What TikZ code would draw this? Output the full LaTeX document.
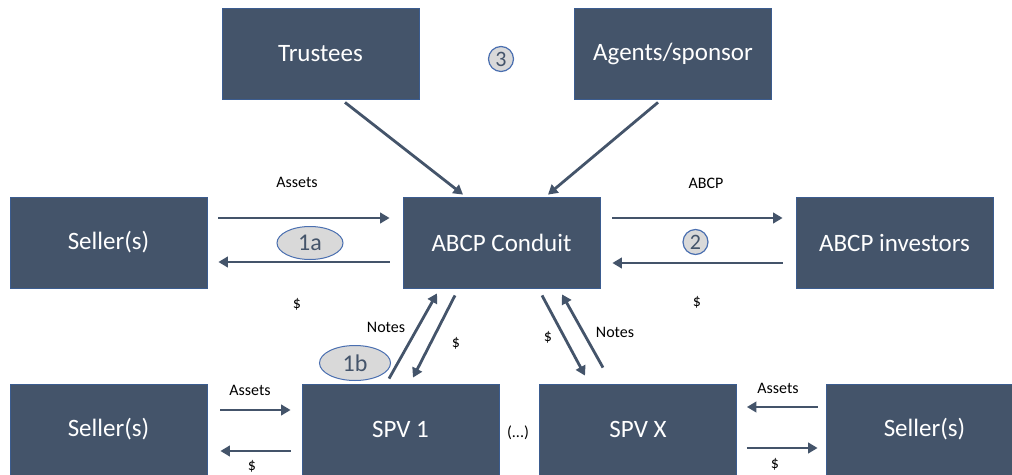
\documentclass[tikz,border=0pt]{standalone}
\usepackage{fontspec}
\setmainfont{Carlito}
\usetikzlibrary{arrows.meta,shapes.geometric}
\definecolor{boxfill}{HTML}{44546A}
\definecolor{boxline}{HTML}{3B5C8F}
\definecolor{arrowc}{HTML}{44546A}
\definecolor{ovalfill}{HTML}{D9D9D9}
\definecolor{ovalline}{HTML}{4A6FB0}
\begin{document}
\begin{tikzpicture}[x=1pt,y=-1pt,
  entity/.style={draw=boxline,line width=0.8pt,fill=boxfill,text=white,
    minimum width=197pt,minimum height=91pt,inner sep=0pt,
    font=\fontsize{25}{29}\selectfont},
  flow/.style={draw=arrowc,line width=2.8pt,-{Triangle[length=9.5pt,width=10.5pt]}},
  lbl/.style={inner sep=0pt,text=black,font=\fontsize{16}{19}\selectfont},
  oval/.style={ellipse,draw=ovalline,line width=1pt,fill=ovalfill,text=arrowc,inner sep=0pt,
    font=\fontsize{24}{28}\selectfont},
  stepnum/.style={circle,draw=ovalline,line width=1.2pt,fill=ovalfill,text=arrowc,inner sep=0pt,
    minimum size=25pt,font=\fontsize{22}{26}\selectfont}
]
\useasboundingbox (0,0) rectangle (1012,474);
\fill[white] (0,0) rectangle (1012,474);

% boxes
\node[entity] (trustees) at (320.5,53.5) {Trustees};
\node[entity] (agents) at (673,53.5) {Agents/sponsor};
\node[entity] (sellerL) at (108.5,242.5) {Seller(s)};
\node[entity] (conduit) at (501.5,242.5) {ABCP Conduit};
\node[entity] (investors) at (894.5,242.5) {ABCP investors};
\node[entity] (sellerBL) at (108.5,429.5) {Seller(s)};
\node[entity] (spv1) at (400.5,429.5) {SPV 1};
\node[entity] (spvx) at (638,429.5) {SPV X};
\node[entity] (sellerBR) at (924.5,429.5) {Seller(s)};

% top arrows
\draw[flow] ([xshift=24.5pt,yshift=-3pt]trustees.south) -- ([xshift=-38.5pt,yshift=2pt]conduit.north);
\draw[flow] ([xshift=-15pt,yshift=-3pt]agents.south) -- ([xshift=46.5pt,yshift=2pt]conduit.north);

% seller <-> conduit
\draw[flow,shorten <=11pt,shorten >=13pt] ([yshift=24.5pt]sellerL.east) -- ([yshift=24.5pt]conduit.west);
\draw[flow,shorten <=13pt,shorten >=11pt] ([yshift=-19.5pt]conduit.west) -- ([yshift=-19.5pt]sellerL.east);

% conduit <-> investors
\draw[flow,shorten <=12pt,shorten >=13pt] ([yshift=24.5pt]conduit.east) -- ([yshift=24.5pt]investors.west);
\draw[flow,shorten <=13pt,shorten >=12pt] ([yshift=-20.5pt]investors.west) -- ([yshift=-20.5pt]conduit.east);

% conduit <-> SPVs
\draw[flow] ([xshift=-11.5pt,yshift=5pt]spv1.north) -- ([xshift=-64.5pt,yshift=-5pt]conduit.south);
\draw[flow] ([xshift=-46.5pt,yshift=-7pt]conduit.south) -- ([xshift=12.5pt,yshift=6pt]spv1.north);
\draw[flow] ([xshift=40.5pt,yshift=-7pt]conduit.south) -- ([xshift=-53pt,yshift=8pt]spvx.north);
\draw[flow] ([xshift=-35pt,yshift=16pt]spvx.north) -- ([xshift=60.5pt,yshift=-6pt]conduit.south);

% bottom sellers
\draw[flow,shorten <=13pt,shorten >=11pt] ([yshift=19.5pt]sellerBL.east) -- ([yshift=19.5pt]spv1.west);
\draw[flow,shorten <=11pt,shorten >=13pt] ([yshift=-21.5pt]spv1.west) -- ([yshift=-21.5pt]sellerBL.east);
\draw[flow,shorten <=8pt,shorten >=10pt] ([yshift=22.5pt]sellerBR.west) -- ([yshift=22.5pt]spvx.east);
\draw[flow,shorten <=10pt,shorten >=8pt] ([yshift=-18.5pt]spvx.east) -- ([yshift=-18.5pt]sellerBR.west);

% labels
\node[lbl] (l1) at (297,182) {Assets};
\node[lbl] (l2) at (297,304) {\$};
\node[lbl] (l3) at (706,183) {ABCP};
\node[lbl] (l4) at (697,302) {\$};
\node[lbl] (l5) at (386,327) {Notes};
\node[lbl] (l6) at (456,343) {\$};
\node[lbl] (l7) at (548,337) {\$};
\node[lbl] (l8) at (615,332) {Notes};
\node[lbl] (l9) at (250,390) {Assets};
\node[lbl] (l10) at (252,466) {\$};
\node[lbl] (l11) at (778,388) {Assets};
\node[lbl] (l12) at (775,464) {\$};
\node[lbl,font=\fontsize{16}{19}\selectfont] (dots) at (518,433) {(...)};

% step markers
\node[oval,minimum width=66pt,minimum height=33pt] (s1a) at (310,243) {1a};
\node[oval,minimum width=71pt,minimum height=35pt] (s1b) at (355,363) {1b};
\node[stepnum] (s3) at (501,59) {3};
\node[stepnum] (s2) at (695.5,242) {2};
\end{tikzpicture}
\end{document}
